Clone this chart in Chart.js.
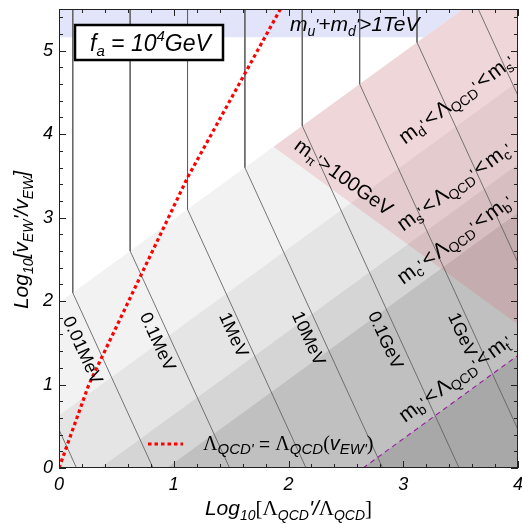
<!DOCTYPE html>
<html><head><meta charset="utf-8">
<script src="https://cdn.jsdelivr.net/npm/chart.js@4.4.1/dist/chart.umd.min.js"></script>
<style>html,body{margin:0;padding:0;background:#fff;}#c{display:block;}</style>
</head><body>
<canvas id="c" width="522" height="525"></canvas>
<script>
// ---------------- data ----------------
const xTickLabels = ['0', '1', '2', '3', '4'];
const yTickLabels = ['0', '1', '2', '3', '4', '5'];

// boundaries Λ_QCD' = m_q' : straight lines log v' = log Λ' + b, given by two end points
const bandLines = [
  [[-1, 0.98], [5, 6.98]],    // b = 1.98
  [[-1, -0.37], [5, 5.63]],   // b = 0.63
  [[-1, -1.36], [5, 4.64]],   // b = -0.36
  [[-1, -1.94], [5, 4.06]],   // b = -0.94
  [[-1, -3.65], [5, 2.35]]    // b = -2.65
];
// m_u'+m_d' > 1TeV band (lower edge, cut by the first boundary)
const blueEdge = [[-0.1, 5.16], [3.18, 5.16], [3.52, 5.5]];
// m_pi' > 100 GeV region
const pinkUpper = [[1.87, 3.85], [4, 5.98]];
const pinkLower = [[1.87, 3.85], [4, 1.72]];
// contour lines (vertical part, kink, slanted part)
const contourLines = [
  [[-0.38, 5.6], [-0.38, 1.60], [0.153, 0]],
  [[0.12, 5.6], [0.12, 2.10], [0.82, 0]],
  [[0.62, 5.6], [0.62, 2.60], [1.487, 0]],
  [[1.12, 5.6], [1.12, 3.10], [2.153, 0]],
  [[1.62, 5.6], [1.62, 3.60], [2.82, 0]],
  [[2.12, 5.6], [2.12, 4.10], [3.487, 0]],
  [[2.62, 5.6], [2.62, 4.60], [4.153, 0]],
  [[3.12, 5.6], [3.12, 5.10], [4.82, 0]],
  [[3.62, 5.6], [3.62, 5.60], [5.487, 0]]
];
const contourLabels = ['0.01MeV', '0.1MeV', '1MeV', '10MeV', '0.1GeV', '1GeV'];
const contourLabelPos = [[0.20, 1.41], [0.854, 1.51], [1.516, 1.594], [2.17, 1.55], [2.84, 1.53], [3.51, 1.594]];
// Λ_QCD' = Λ_QCD(v_EW')
const redLine = [[0, 0], [0.26, 1.0], [1.12, 3.48], [1.93, 5.5], [1.97, 5.6]];
// Λ_QCD' = m_t'
const purpleLine = [[2.65, 0], [4.2, 1.55]];

// ---------------- styles ----------------
const bandColors = ['#f2f2f2', '#e5e5e5', '#d5d5d5', '#c0c0c0', '#a8a8a8'];
const SANS = "'Liberation Sans', Arial, Helvetica, sans-serif";
const SERIF = "'Liberation Serif', 'Times New Roman', serif";
const P = (t, size, o = {}) => ({t, f: (o.it ? 'italic ' : '') + size + 'px ' + (o.serif ? SERIF : SANS), dy: o.dy || 0, dx: o.dx || 0});
const pts = a => a.map(p => ({x: p[0], y: p[1]}));

const datasets = [];
bandLines.forEach((l, i) => datasets.push({data: pts(l), borderWidth: 0, pointRadius: 0, fill: 'start', backgroundColor: bandColors[i], order: 100 - i}));
datasets.push({data: pts(blueEdge), borderWidth: 0, pointRadius: 0, fill: 'end', backgroundColor: 'rgb(226,228,250)', order: 90});
const lowerIdx = datasets.length;
datasets.push({data: pts(pinkLower), borderWidth: 0, pointRadius: 0, fill: false, order: 81});
datasets.push({data: pts(pinkUpper), borderWidth: 0, pointRadius: 0, fill: lowerIdx, backgroundColor: 'rgba(225,80,90,0.17)', order: 80});
contourLines.forEach(l => datasets.push({data: pts(l), borderColor: 'rgba(95,95,95,0.95)', borderWidth: 0.9, pointRadius: 0, fill: false, order: 70}));
datasets.push({data: pts(purpleLine), borderColor: '#9a1aa0', borderWidth: 1.1, borderDash: [5, 4], pointRadius: 0, fill: false, order: 61});
datasets.push({data: pts(redLine), borderColor: '#ff0000', borderWidth: 3.2, borderDash: [3.5, 3], borderCapStyle: 'butt', pointRadius: 0, fill: false, order: 60});

function drawRich(ctx, parts, x, y, ang, align) {
  ctx.save();
  ctx.translate(x, y);
  ctx.rotate(ang || 0);
  ctx.textAlign = 'left'; ctx.textBaseline = 'alphabetic'; ctx.fillStyle = '#000';
  let w = 0;
  for (const p of parts) { ctx.font = p.f; w += ctx.measureText(p.t).width + p.dx; }
  let cx = align === 'center' ? -w / 2 : (align === 'right' ? -w : 0);
  for (const p of parts) { ctx.font = p.f; ctx.fillText(p.t, cx, p.dy); cx += ctx.measureText(p.t).width + p.dx; }
  ctx.restore();
}

const overlay = {
  id: 'overlay',
  beforeDraw(chart) {
    const c = chart.ctx; c.save(); c.fillStyle = '#fff'; c.fillRect(0, 0, chart.width, chart.height); c.restore();
  },
  afterDatasetsDraw(chart) {
    const {ctx, chartArea: a, scales: {x, y}} = chart;
    const X = v => x.getPixelForValue(v), Y = v => y.getPixelForValue(v);
    ctx.save();
    ctx.beginPath(); ctx.rect(a.left, a.top, a.width, a.height); ctx.clip();
    // contour labels
    const angC = Math.atan2(Y(-3) - Y(0), X(1) - X(0));
    ctx.fillStyle = '#000';
    contourLabels.forEach((t, i) => {
      ctx.save();
      ctx.translate(X(contourLabelPos[i][0]), Y(contourLabelPos[i][1]));
      ctx.rotate(angC);
      ctx.font = '18px ' + SANS; ctx.textAlign = 'center'; ctx.textBaseline = 'middle';
      ctx.fillText(t, 0, 0);
      ctx.restore();
    });
    // diagonal region labels
    const angD = Math.atan2(Y(1) - Y(0), X(1) - X(0));
    const M = 21, S = 14, sd = 4;
    const reg = (a1, a2) => [P('m', M), P(a1, S, {dy: sd}), P("'", 16, {dx: 2}), P('<', M, {dx: 2}), P('Λ', M), P('QCD', S, {dy: sd}), P("'", 16, {dx: 2}), P('<', M, {dx: 2}), P('m', M), P(a2, S, {dy: sd}), P("'", 16)];
    drawRich(ctx, reg('d', 's'), X(3.015), Y(3.873), angD);
    drawRich(ctx, reg('s', 'c'), X(3.0), Y(2.83), angD);
    drawRich(ctx, reg('c', 'b'), X(3.0), Y(2.194), angD);
    drawRich(ctx, reg('b', 't'), X(3.015), Y(0.54), angD);
    const angP = Math.atan2(Y(-1) - Y(0), X(1) - X(0));
    drawRich(ctx, [P('m', 20), P('π', 13, {dy: sd}), P("'", 16, {dx: 1}), P('>', 20, {dx: 1}), P('100GeV', 20)], X(2.04), Y(3.83), angP);
    // top band label
    drawRich(ctx, [P('m', 21, {it: 1}), P('u', 14, {it: 1, dy: 5}), P("'", 16, {it: 1}), P('+', 21, {it: 1}), P('m', 21, {it: 1}), P('d', 14, {it: 1, dy: 5}), P("'", 16, {it: 1}), P('>1TeV', 21, {it: 1})], a.left + 231, a.top + 22);
    ctx.restore();

    // legend
    ctx.save();
    ctx.strokeStyle = '#ff0000'; ctx.lineWidth = 3.2; ctx.setLineDash([3.5, 3]);
    ctx.beginPath(); ctx.moveTo(a.left + 89, a.top + 435); ctx.lineTo(a.left + 124, a.top + 435); ctx.stroke();
    ctx.restore();
    drawRich(ctx, [P('Λ', 20, {serif: 1}), P("QCD'", 15, {it: 1, dy: 4}), P(' = ', 19), P('Λ', 20, {serif: 1}), P('QCD', 15, {it: 1, dy: 4}), P('(', 20, {serif: 1}), P('v', 20, {it: 1}), P("EW'", 15, {it: 1, dy: 4}), P(')', 20, {serif: 1})], a.left + 144, a.top + 441);

    // f_a box
    ctx.save();
    ctx.fillStyle = '#fff'; ctx.strokeStyle = '#000'; ctx.lineWidth = 2.5;
    ctx.fillRect(a.left + 16, a.top + 16, 148, 35);
    ctx.strokeRect(a.left + 16, a.top + 16, 148, 35);
    ctx.restore();
    drawRich(ctx, [P('f', 23, {it: 1}), P('a', 15, {it: 1, dy: 5}), P(' = 10', 23, {it: 1}), P('4', 15, {it: 1, dy: -10}), P('GeV', 23, {it: 1})], a.left + 31, a.top + 42);

    // frame + inward ticks
    ctx.save();
    ctx.strokeStyle = '#222'; ctx.lineWidth = 1;
    ctx.strokeRect(a.left + 0.5, a.top + 0.5, a.width - 1, a.height - 1);
    ctx.beginPath();
    for (let i = 0; i <= 20; i++) {
      const px = Math.round(X(i / 5)) + 0.5, L = i % 5 === 0 ? 7 : 4;
      ctx.moveTo(px, a.bottom); ctx.lineTo(px, a.bottom - L);
      ctx.moveTo(px, a.top); ctx.lineTo(px, a.top + L);
    }
    for (let i = 0; i <= 27; i++) {
      const py = Math.round(Y(i / 5)) + 0.5, L = i % 5 === 0 ? 7 : 4;
      ctx.moveTo(a.left, py); ctx.lineTo(a.left + L, py);
      ctx.moveTo(a.right, py); ctx.lineTo(a.right - L, py);
    }
    ctx.stroke();
    ctx.restore();
  },
  afterDraw(chart) {
    const {ctx, chartArea: a} = chart;
    const T = 21, s = 14;
    drawRich(ctx, [P('Log', T, {it: 1}), P('10', s, {it: 1, dy: 5}), P('[', T, {serif: 1}), P('Λ', T, {serif: 1}), P('QCD', s, {it: 1, dy: 5}), P("'/", T, {it: 1}), P('Λ', T, {serif: 1}), P('QCD', s, {it: 1, dy: 5}), P(']', T, {serif: 1})], (a.left + a.right) / 2, 515, 0, 'center');
    drawRich(ctx, [P('Log', T, {it: 1}), P('10', s, {it: 1, dy: 5}), P('[', T, {it: 1}), P('v', T, {it: 1}), P('EW', s, {it: 1, dy: 5}), P("'", T, {it: 1}), P('/', T, {it: 1}), P('v', T, {it: 1}), P('EW', s, {it: 1, dy: 5}), P(']', T, {it: 1})], 28, 240, -Math.PI / 2, 'center');
  }
};

new Chart(document.getElementById('c'), {
  type: 'line',
  data: {datasets},
  options: {
    responsive: false, animation: false, devicePixelRatio: 1, events: [],
    layout: {padding: {top: 9, right: 4, left: 0, bottom: 0}},
    plugins: {legend: {display: false}, tooltip: {enabled: false}},
    elements: {line: {tension: 0}},
    scales: {
      x: {
        type: 'linear', min: 0, max: 4,
        grid: {display: false, drawTicks: false}, border: {display: false},
        ticks: {stepSize: 1, autoSkip: false, maxRotation: 0, padding: 6, color: '#000',
          font: {family: SANS, size: 18, style: 'italic'},
          callback: v => Number.isInteger(v) ? xTickLabels[v] : ''},
        afterFit: s => { s.height = 57; s.paddingLeft = 0; s.paddingRight = 0; }
      },
      y: {
        type: 'linear', min: 0, max: 5.5,
        grid: {display: false, drawTicks: false}, border: {display: false},
        ticks: {stepSize: 1, includeBounds: false, autoSkip: false, padding: 6, color: '#000',
          font: {family: SANS, size: 18, style: 'italic'},
          callback: v => Number.isInteger(v) ? yTickLabels[v] : ''},
        afterFit: s => { s.width = 59; s.paddingTop = 0; s.paddingBottom = 0; }
      }
    }
  },
  plugins: [overlay]
});
</script>
</body></html>
